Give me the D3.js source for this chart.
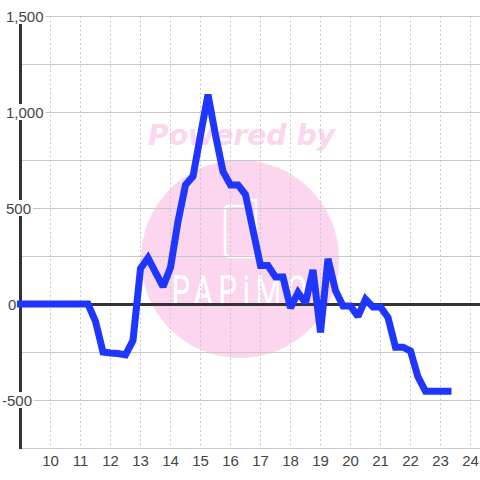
<!DOCTYPE html>
<html><head><meta charset="utf-8">
<script src="https://cdn.jsdelivr.net/npm/d3@7/dist/d3.min.js"></script>
<style>html,body{margin:0;padding:0;background:#fff}svg{display:block}</style>
</head><body><svg id="c" width="480" height="480"></svg>
<script>
const xStart = 9, xStep = 0.25;
const seriesValues = [0,0,0,0,0,0,0,0,0,
  0,-90,-250,-255,-258,-265,-190,185,240,165,90,190,430,620,665,880,1090,880,690,620,620,570,385,200,200,140,140,-20,60,5,177,-148,235,70,-10,-10,-65,25,-15,-15,-70,-225,-225,-245,-380,-455,-455,-455,-455];
const xTickValues = [10,11,12,13,14,15,16,17,18,19,20,21,22,23,24];
const yLabelValues = [1500,1000,500,0,-500];
const yGridValues = [1500,1250,1000,750,500,250,-250,-500,-750];
const watermarkTop = "Powered by";
const watermarkLogo = "PAPiMO";

const svg = d3.select("#c");
const x = d3.scaleLinear().domain([9,24]).range([20.5,470.5]);
const y = d3.scaleLinear().domain([1500,-750]).range([16,448]);
const fmt = v => d3.format(",")(v).replace("\u2212","-");

// watermark
const wm = svg.append("g");
wm.append("circle").attr("cx",240).attr("cy",259).attr("r",99).attr("fill","#fbd6ee");
wm.append("text").attr("x",148).attr("y",145).attr("font-family","DejaVu Sans").attr("font-weight","bold").attr("font-style","italic")
  .attr("font-size",29).attr("textLength",187).attr("lengthAdjust","spacingAndGlyphs").attr("fill","#fbd6ee").text(watermarkTop);
wm.append("path").attr("d","M229 206 H250 V200 H256 V252 Q256 257 251 257 H230 Q225 257 225 252 V210 Q225 206 229 206 Z")
  .attr("fill","none").attr("stroke","#fff").attr("stroke-width",2.5);
wm.append("text").attr("transform","translate(172,305) scale(.72,1)").attr("font-family","Roboto").attr("font-weight",300)
  .attr("font-size",40).attr("letter-spacing",9).attr("fill","#fff").attr("stroke","#fff").attr("stroke-width",1.5).text(watermarkLogo);

// grid
const axisG = svg.append("g").attr("fill","none");
axisG.selectAll(".v").data(xTickValues).join("line").attr("x1",d=>x(d)).attr("x2",d=>x(d))
  .attr("y1",16).attr("y2",448).attr("stroke","#c8c8c8").attr("stroke-dasharray","2 2.5");
axisG.selectAll(".h").data(yGridValues).join("line").attr("x1",20).attr("x2",480)
  .attr("y1",d=>y(d)+.5).attr("y2",d=>y(d)+.5).attr("stroke","#c8c8c8").attr("stroke-width",1);
axisG.append("line").attr("x1",20).attr("x2",480).attr("y1",y(0)+.5).attr("y2",y(0)+.5).attr("stroke","#333").attr("stroke-width",3);
axisG.append("line").attr("x1",x(9)).attr("x2",x(9)).attr("y1",16).attr("y2",449).attr("stroke","#333").attr("stroke-width",3);

// y labels with white plates
const yl = svg.append("g").attr("font-family","Liberation Sans").attr("font-size",15).attr("fill","#444");
yLabelValues.forEach(v=>{
  const t = yl.append("text").attr("x", v<0?2:(v===0?8:6)).attr("y",y(v)+6).text(fmt(v));
  const b = t.node().getBBox();
  yl.insert("rect","text").attr("x",b.x).attr("y",y(v)-8).attr("width",b.width+2).attr("height",16).attr("fill","#fff");
});
yl.selectAll("text").raise();

// x labels
svg.append("g").attr("font-family","Liberation Sans").attr("font-size",15).attr("fill","#444").attr("text-anchor","middle")
  .selectAll("text").data(xTickValues).join("text").attr("x",d=>x(d)).attr("y",466).text(d=>d);

// line
const line = d3.line().x((d,i)=>x(xStart+i*xStep)).y(d=>y(d)).curve(d3.curveLinear);
svg.append("path").datum(seriesValues).attr("d",line).attr("fill","none").attr("stroke","#1e36ff")
  .attr("stroke-width",7).attr("stroke-linejoin","miter").attr("stroke-miterlimit",2).attr("stroke-linecap","square");
</script></body></html>
